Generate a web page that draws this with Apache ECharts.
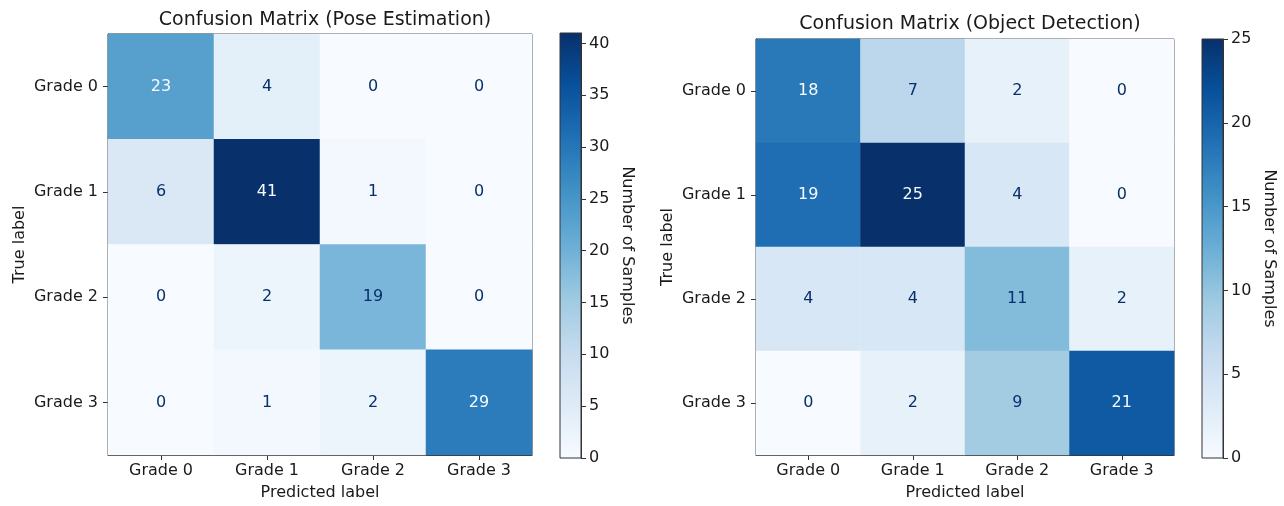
<!DOCTYPE html>
<html>
<head>
<meta charset="utf-8">
<script src="https://cdn.jsdelivr.net/npm/echarts@6/dist/echarts.min.js"></script>
<style>
  html, body { margin: 0; padding: 0; background: #fff; }
  #main { width: 1284px; height: 506px; }
</style>
</head>
<body>
<div id="main"></div>
<script>
// 数据
var grades = ['Grade 0', 'Grade 1', 'Grade 2', 'Grade 3'];
var poseMatrix = [
    [23, 4, 0, 0],
    [6, 41, 1, 0],
    [0, 2, 19, 0],
    [0, 1, 2, 29]
];
var objMatrix = [
    [18, 7, 2, 0],
    [19, 25, 4, 0],
    [4, 4, 11, 2],
    [0, 2, 9, 21]
];
var poseTicks = [0, 5, 10, 15, 20, 25, 30, 35, 40];
var objTicks = [0, 5, 10, 15, 20, 25];
var blues = ['#f7fbff', '#deebf7', '#c6dbef', '#9ecae1', '#6baed6', '#4292c6', '#2171b5', '#08519c', '#08306b'];

var font = 'DejaVu Sans';
var ink = '#1a1a1a';

// 矩阵 -> heatmap 数据, 文字颜色按阈值
function buildData(m) {
    var max = 0, min = Infinity;
    m.forEach(function (row) {
        row.forEach(function (v) { max = Math.max(max, v); min = Math.min(min, v); });
    });
    var thresh = (max + min) / 2;
    var out = [];
    m.forEach(function (row, i) {
        row.forEach(function (v, j) {
            out.push({
                value: [j, i, v],
                label: { color: v < thresh ? blues[8] : blues[0] }
            });
        });
    });
    return out;
}

function matMax(m) {
    return Math.max.apply(null, m.map(function (r) { return Math.max.apply(null, r); }));
}

function gradient() {
    return new echarts.graphic.LinearGradient(0, 1, 0, 0, blues.map(function (c, i) {
        return { offset: i / (blues.length - 1), color: c };
    }));
}

var myChart = echarts.init(document.getElementById('main'));

var axisLine = { show: true, onZero: false, lineStyle: { color: '#333', width: 1 } };
var tickStyle = { show: true, inside: false, length: 5, lineStyle: { color: '#333' } };
var labelStyle = { color: ink, fontFamily: font, fontSize: 16 };

function catX(gridIndex) {
    return {
        type: 'category', gridIndex: gridIndex, data: grades,
        axisLine: axisLine,
        axisTick: Object.assign({ alignWithLabel: true }, tickStyle),
        axisLabel: Object.assign({ margin: 8 }, labelStyle),
        splitLine: { show: false },
        name: 'Predicted label', nameLocation: 'middle', nameGap: 30,
        nameTextStyle: labelStyle
    };
}
function catY(gridIndex) {
    return {
        type: 'category', gridIndex: gridIndex, data: grades, inverse: true,
        axisLine: axisLine,
        axisTick: Object.assign({ alignWithLabel: true }, tickStyle),
        axisLabel: Object.assign({ margin: 10 }, labelStyle),
        splitLine: { show: false },
        name: 'True label', nameLocation: 'middle', nameGap: 80,
        nameTextStyle: labelStyle
    };
}
function cbX(gridIndex) {
    return { type: 'value', gridIndex: gridIndex, show: false, min: 0, max: 1 };
}
function cbY(gridIndex, max, ticks) {
    return {
        type: 'value', gridIndex: gridIndex, position: 'right', min: 0, max: max,
        axisLine: axisLine,
        axisTick: Object.assign({ customValues: ticks }, tickStyle),
        axisLabel: Object.assign({ margin: 8, customValues: ticks }, labelStyle),
        splitLine: { show: false },
        name: 'Number of Samples', nameLocation: 'middle', nameGap: 38, nameRotate: -90,
        nameTextStyle: labelStyle
    };
}

var poseMax = matMax(poseMatrix);
var objMax = matMax(objMatrix);

var option = {
    backgroundColor: '#fff',
    animation: false,
    title: [
        {
            text: 'Confusion Matrix (Pose Estimation)', left: 320, top: 6, textAlign: 'center',
            textStyle: { color: ink, fontFamily: font, fontSize: 19, fontWeight: 'normal' }
        },
        {
            text: 'Confusion Matrix (Object Detection)', left: 965, top: 10, textAlign: 'center',
            textStyle: { color: ink, fontFamily: font, fontSize: 19, fontWeight: 'normal' }
        }
    ],
    grid: [
        { left: 108, top: 34, width: 424, height: 424, show: true, borderColor: '#333', borderWidth: 1, backgroundColor: 'transparent' },
        { left: 560, top: 33, width: 21, height: 425, show: true, borderColor: '#333', borderWidth: 1, backgroundColor: gradient() },
        { left: 756, top: 39, width: 418, height: 419, show: true, borderColor: '#333', borderWidth: 1, backgroundColor: 'transparent' },
        { left: 1202, top: 39, width: 21, height: 419, show: true, borderColor: '#333', borderWidth: 1, backgroundColor: gradient() }
    ],
    xAxis: [catX(0), cbX(1), catX(2), cbX(3)],
    yAxis: [catY(0), cbY(1, poseMax, poseTicks), catY(2), cbY(3, objMax, objTicks)],
    visualMap: [
        { type: 'continuous', show: false, seriesIndex: 0, min: 0, max: poseMax, inRange: { color: blues } },
        { type: 'continuous', show: false, seriesIndex: 1, min: 0, max: objMax, inRange: { color: blues } }
    ],
    series: [
        {
            type: 'heatmap', xAxisIndex: 0, yAxisIndex: 0,
            data: buildData(poseMatrix),
            label: { show: true, fontFamily: font, fontSize: 16 },
            itemStyle: { borderWidth: 0 },
            emphasis: { disabled: true },
            z: 1
        },
        {
            type: 'heatmap', xAxisIndex: 2, yAxisIndex: 2,
            data: buildData(objMatrix),
            label: { show: true, fontFamily: font, fontSize: 16 },
            itemStyle: { borderWidth: 0 },
            emphasis: { disabled: true },
            z: 1
        }
    ]
};
myChart.setOption(option);
window.addEventListener('resize', function () {
    myChart.resize();
});
</script>
</body>
</html>
